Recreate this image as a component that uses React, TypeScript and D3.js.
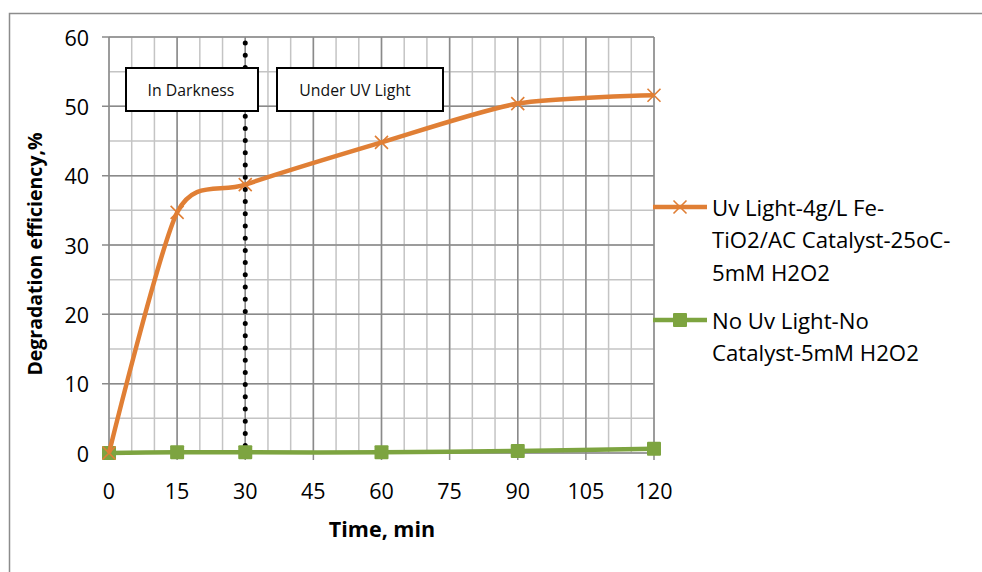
import React from "react";
import * as d3 from "d3";

// Sampling times (min)
const times = [0, 15, 30, 60, 90, 120];
// Degradation efficiency (%) for each run
const uvCatalyst = [0, 34.7, 38.7, 44.8, 50.4, 51.6];
const noUvNoCatalyst = [0, 0.1, 0.1, 0.1, 0.3, 0.6];

const seriesNames = [
  ["Uv Light-4g/L Fe-", "TiO2/AC Catalyst-25oC-", "5mM H2O2"],
  ["No Uv Light-No", "Catalyst-5mM H2O2"],
];
const xTicks = [0, 15, 30, 45, 60, 75, 90, 105, 120];
const yTicks = [0, 10, 20, 30, 40, 50, 60];
const phaseLabels = ["In Darkness", "Under UV Light"];
const switchTime = 30;

const W = 982;
const H = 572;
const FONT = "'Open Sans', Lato, sans-serif";
const ORANGE = "#E07F35";
const GREEN = "#7DA440";
const FS = 21.5;
const LEGEND_FS = 22.2;

export default function App() {
  const x = d3.scaleLinear().domain([0, 120]).range([109, 654]);
  const y = d3.scaleLinear().domain([0, 60]).range([453, 37]);

  const minorX = d3.range(0, 121, 5);
  const minorY = d3.range(0, 61, 5);

  const line = d3
    .line<number>()
    .x((_, i) => x(times[i]))
    .y((d) => y(d))
    .curve(d3.curveCardinal.tension(0.25));

  const xMarker = (cx: number, cy: number, s = 6, key?: string | number) => (
    <path
      key={key}
      d={`M${cx - s},${cy - s}L${cx + s},${cy + s}M${cx - s},${cy + s}L${cx + s},${cy - s}`}
      stroke={ORANGE}
      strokeWidth={1.6}
      fill="none"
    />
  );
  const sqMarker = (cx: number, cy: number, s = 7, key?: string | number) => (
    <rect key={key} x={cx - s} y={cy - s} width={2 * s} height={2 * s} fill={GREEN} rx={1} />
  );

  return (
    <svg
      width={W}
      height={H}
      style={{ position: "absolute", left: 0, top: 0, background: "#fff" }}
      fontFamily={FONT}
    >
      {/* chart frame */}
      <rect x={9.5} y={13.5} width={W} height={H} fill="#fff" stroke="#8c8c8c" strokeWidth={1.5} />

      {/* minor grid */}
      {minorX.map((v) => (
        <line key={"mx" + v} x1={x(v)} x2={x(v)} y1={y(60)} y2={y(0)} stroke="#c4c4c4" strokeWidth={1.5} />
      ))}
      {minorY.map((v) => (
        <line key={"my" + v} x1={x(0)} x2={x(120)} y1={y(v)} y2={y(v)} stroke="#c4c4c4" strokeWidth={1.5} />
      ))}
      {/* major grid */}
      {xTicks.map((v) => (
        <line key={"gx" + v} x1={x(v)} x2={x(v)} y1={y(60)} y2={y(0) + 7} stroke="#8a8a8a" strokeWidth={1.5} />
      ))}
      {yTicks.map((v) => (
        <line key={"gy" + v} x1={x(0) - 7} x2={x(120)} y1={y(v)} y2={y(v)} stroke="#8a8a8a" strokeWidth={1.5} />
      ))}

      {/* phase boundary */}
      <line
        x1={x(switchTime)}
        x2={x(switchTime)}
        y1={y(60) + 6}
        y2={y(0) - 6}
        stroke="#000"
        strokeWidth={5}
        strokeLinecap="round"
        strokeDasharray="0 12.2"
      />

      {/* phase label boxes */}
      <rect x={126} y={68} width={132} height={43} fill="#fff" stroke="#000" strokeWidth={2} />
      <text x={191} y={90} textAnchor="middle" dominantBaseline="central" fontSize={15.8} fill="#111">
        {phaseLabels[0]}
      </text>
      <rect x={277} y={68} width={166} height={43} fill="#fff" stroke="#000" strokeWidth={2} />
      <text x={355} y={90} textAnchor="middle" dominantBaseline="central" fontSize={15.8} fill="#111">
        {phaseLabels[1]}
      </text>

      {/* series */}
      <path d={line(noUvNoCatalyst) || ""} fill="none" stroke={GREEN} strokeWidth={4.5} />
      {noUvNoCatalyst.map((v, i) => sqMarker(x(times[i]), y(v), 7, "g" + i))}
      <path d={line(uvCatalyst) || ""} fill="none" stroke={ORANGE} strokeWidth={4.5} />
      {uvCatalyst.map((v, i) => xMarker(x(times[i]), y(v), 6.5, "o" + i))}

      {/* axis tick labels */}
      {xTicks.map((v) => (
        <text key={"tx" + v} x={x(v)} y={490} textAnchor="middle" dominantBaseline="central" fontSize={FS} fill="#000">
          {v}
        </text>
      ))}
      {yTicks.map((v) => (
        <text key={"ty" + v} x={89} y={y(v)} textAnchor="end" dominantBaseline="central" fontSize={FS} fill="#000">
          {v}
        </text>
      ))}

      {/* axis titles */}
      <text x={382} y={528} textAnchor="middle" dominantBaseline="central" fontSize={21.5} fontWeight="bold">
        Time, min
      </text>
      <text
        transform={`translate(34,254) rotate(-90)`}
        textAnchor="middle"
        dominantBaseline="central"
        fontSize={19.5}
        fontWeight="bold"
      >
        Degradation efficiency,%
      </text>

      {/* legend */}
      <line x1={653} x2={707} y1={207} y2={207} stroke={ORANGE} strokeWidth={4.5} />
      {xMarker(680, 207, 6.5)}
      {seriesNames[0].map((t, i) => (
        <text key={"l0" + i} x={712} y={207 + i * 32.5} dominantBaseline="central" fontSize={LEGEND_FS} fill="#000">
          {t}
        </text>
      ))}
      <line x1={653} x2={707} y1={320} y2={320} stroke={GREEN} strokeWidth={4.5} />
      {sqMarker(680, 320, 7)}
      {seriesNames[1].map((t, i) => (
        <text key={"l1" + i} x={712} y={320 + i * 32.5} dominantBaseline="central" fontSize={LEGEND_FS} fill="#000">
          {t}
        </text>
      ))}
    </svg>
  );
}
